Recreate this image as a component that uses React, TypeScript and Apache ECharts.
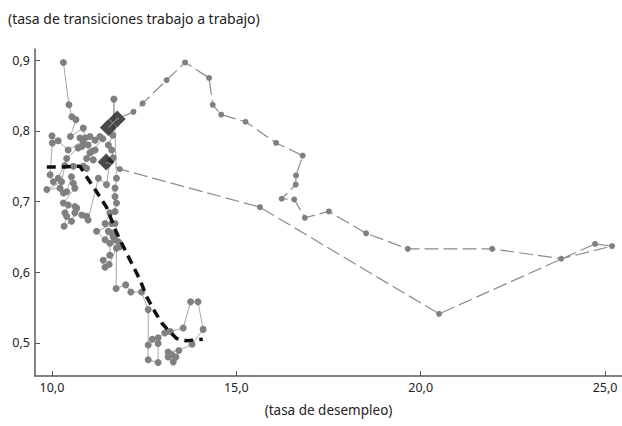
import { useEffect, useRef } from "react";
import * as echarts from "echarts";

// Solid path: pre-crisis cluster (unemployment rate, job-to-job transition rate)
const clusterUnemp = [
  10.31, 10.46, 10.54, 10.65, 10.5, 10.85, 10.9, 11.03, 10.44, 10.0, 10.17, 10.01, 9.95, 10.04, 10.17, 10.4,
  10.71, 10.81, 10.76, 10.85, 10.98, 11.17, 11.3, 11.38, 11.08, 11.17, 10.94, 11.12, 11.03, 10.85, 10.94, 10.58,
  10.35, 10.26, 9.86, 10.22, 10.31, 10.4, 10.53, 10.58, 10.62, 10.31, 10.44, 10.35, 10.4, 10.33, 10.53, 10.62,
  10.62, 10.67, 10.81, 10.94, 10.98, 11.26, 11.48, 11.57, 11.66, 11.62, 11.53, 11.65, 11.68, 11.75, 11.71, 11.71,
  11.75, 11.71, 11.57, 11.44, 11.62, 11.71, 11.21, 11.44, 11.53, 11.62, 11.66, 11.71, 11.8, 11.84, 11.57, 11.57,
  11.39, 11.44, 11.55, 11.75, 11.74, 12.0, 12.14, 12.43, 12.61, 12.61, 12.61, 12.88, 12.88, 12.72, 12.88, 13.06,
  13.21, 13.56, 13.76, 13.96, 14.1, 13.8, 13.44, 13.15, 13.25, 13.36, 13.29, 13.15,
];
const clusterRate = [
  0.897, 0.837, 0.82, 0.816, 0.792, 0.804, 0.79, 0.792, 0.773, 0.793, 0.786, 0.783, 0.738, 0.728, 0.733, 0.761,
  0.776, 0.778, 0.79, 0.783, 0.78, 0.787, 0.792, 0.789, 0.771, 0.773, 0.761, 0.759, 0.769, 0.75, 0.747, 0.75,
  0.751, 0.728, 0.717, 0.719, 0.712, 0.714, 0.735, 0.726, 0.719, 0.698, 0.695, 0.684, 0.679, 0.665, 0.672, 0.684,
  0.693, 0.691, 0.681, 0.679, 0.674, 0.733, 0.724, 0.757, 0.762, 0.773, 0.78, 0.794, 0.845, 0.733, 0.719, 0.707,
  0.698, 0.686, 0.684, 0.669, 0.669, 0.669, 0.658, 0.646, 0.658, 0.655, 0.65, 0.646, 0.643, 0.636, 0.641, 0.624,
  0.617, 0.607, 0.611, 0.634, 0.577, 0.582, 0.572, 0.572, 0.547, 0.497, 0.476, 0.472, 0.499, 0.505, 0.507, 0.514,
  0.516, 0.521, 0.558, 0.558, 0.519, 0.498, 0.489, 0.487, 0.483, 0.48, 0.473, 0.48,
];

// Dashed path: crisis episode
const crisisUnemp = [
  11.53, 11.77, 12.21, 12.46, 13.11, 13.61, 14.26, 14.36, 14.59, 15.25, 16.08, 16.8, 16.62, 16.61, 16.23, 16.57,
  16.86, 17.51, 18.52, 19.65, 21.94, 23.81, 25.19, 24.73, 20.5, 15.64, 11.84, 11.47,
];
const crisisRate = [
  0.805, 0.817, 0.827, 0.839, 0.872, 0.897, 0.875, 0.837, 0.823, 0.813, 0.783, 0.765, 0.737, 0.724, 0.704, 0.703,
  0.677, 0.686, 0.655, 0.633, 0.633, 0.619, 0.637, 0.64, 0.541, 0.692, 0.746, 0.756,
];

// Highlighted observations (black diamonds)
const markerUnemp = [11.53, 11.77, 11.47];
const markerRate = [0.805, 0.817, 0.756];

// Thick dashed trend
const trendUnemp = [
  9.86, 10.27, 10.76, 10.9, 11.17, 11.48, 11.75, 12.12, 12.39, 12.57, 12.79, 12.98, 13.15, 13.38, 13.65, 13.88, 14.09,
];
const trendRate = [
  0.749, 0.749, 0.75, 0.738, 0.717, 0.692, 0.656, 0.617, 0.589, 0.565, 0.544, 0.528, 0.518, 0.506, 0.503, 0.504, 0.505,
];

const xTicks = [10, 15, 20, 25];
const yTicks = [0.5, 0.6, 0.7, 0.8, 0.9];

const yTitle = "(tasa de transiciones trabajo a trabajo)";
const xTitle = "(tasa de desempleo)";

const FONT = "'Noto Sans', sans-serif";
const fmt = (v: number) => v.toFixed(1).replace(".", ",");

export default function App() {
  const ref = useRef<HTMLDivElement>(null);
  useEffect(() => {
    document.body.style.margin = "0";
    const chart = echarts.init(ref.current!, null, { renderer: "svg" });
    const zip = (xs: number[], ys: number[]) => xs.map((x, i) => [x, ys[i]]);
    const crisisData = zip(crisisUnemp, crisisRate).map((p, i, arr) =>
      i < 2 || i === arr.length - 1 ? { value: p, symbol: "none" } : { value: p }
    );
    const axisColor = "#5a5a5a";
    chart.setOption({
      animation: false,
      grid: { left: 35, right: 0, top: 49, bottom: 50 },
      xAxis: {
        type: "value",
        min: 9.54,
        max: 25.46,
        name: xTitle,
        nameLocation: "middle",
        nameGap: 27,
        nameTextStyle: { fontFamily: FONT, fontSize: 13.5, color: "#222" },
        axisLine: { lineStyle: { color: axisColor, width: 1.5 } },
        axisTick: { inside: true, length: 5, customValues: xTicks, lineStyle: { color: axisColor } },
        axisLabel: {
          customValues: xTicks,
          formatter: fmt,
          margin: 5,
          color: "#222",
          fontFamily: FONT,
          fontSize: 12.5,
        },
        splitLine: { show: false },
      },
      yAxis: {
        type: "value",
        min: 0.453,
        max: 0.916,
        axisLine: { show: true, lineStyle: { color: axisColor, width: 1.5 } },
        axisTick: { show: true, inside: true, length: 5, customValues: yTicks, lineStyle: { color: axisColor } },
        axisLabel: {
          customValues: yTicks,
          formatter: fmt,
          margin: 5,
          color: "#222",
          fontFamily: FONT,
          fontSize: 12.5,
        },
        splitLine: { show: false },
      },
      graphic: [
        {
          type: "text",
          left: 8,
          top: 11,
          style: { text: yTitle, fontFamily: FONT, fontSize: 14, fill: "#222" },
        },
      ],
      series: [
        {
          type: "line",
          data: zip(clusterUnemp, clusterRate),
          symbol: "circle",
          symbolSize: 7,
          silent: true,
          lineStyle: { color: "#a8a8a8", width: 1 },
          itemStyle: { color: "#808080" },
          z: 2,
        },
        {
          type: "scatter",
          data: zip(markerUnemp, markerRate),
          symbol: "rect",
          symbolRotate: 45,
          symbolSize: 12,
          silent: true,
          itemStyle: { color: "#1c1c1c" },
          z: 3,
        },
        {
          type: "line",
          data: crisisData,
          symbol: "circle",
          symbolSize: 6,
          silent: true,
          lineStyle: { color: "#8c8c8c", width: 1.2, type: [14, 5] },
          itemStyle: { color: "#808080" },
          z: 4,
        },
        {
          type: "line",
          data: zip(trendUnemp, trendRate),
          symbol: "none",
          silent: true,
          lineStyle: { color: "#111", width: 3.5, type: [9, 6] },
          z: 5,
        },
      ],
    });
    return () => chart.dispose();
  }, []);
  return <div ref={ref} style={{ width: 622, height: 426 }} />;
}
